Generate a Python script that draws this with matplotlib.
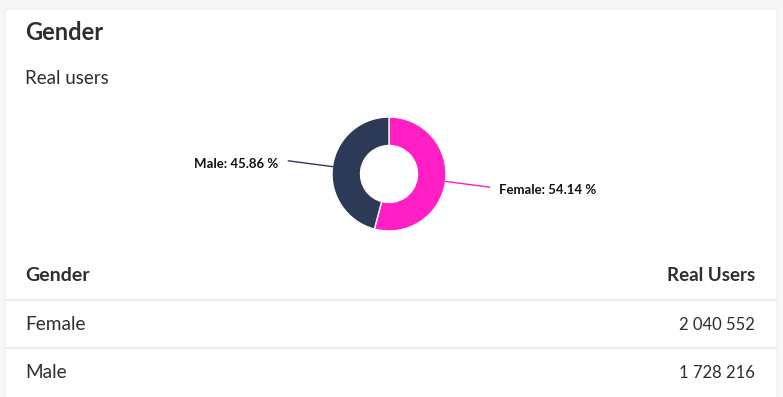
import matplotlib.pyplot as plt
import numpy as np
from matplotlib.patches import FancyBboxPatch

plt.rcParams['font.family'] = ['Lato', 'DejaVu Sans']

# Data
genders = ["Female", "Male"]
real_users = [2040552, 1728216]
colors = ["#ff1fc4", "#2d3a57"]

title = "Gender"
subtitle = "Real users"
col_headers = ["Gender", "Real Users"]

W, H = 783, 397
fig = plt.figure(figsize=(W / 100, H / 100), dpi=100)
fig.patch.set_facecolor("#f6f7f8")


def fx(px):
    return px / W


def fy(py):
    return 1 - py / H


# white card
card = FancyBboxPatch((fx(5), fy(420)), fx(772), (420 - 9) / H,
                      boxstyle="round,pad=0,rounding_size=0.006",
                      transform=fig.transFigure, facecolor="white",
                      edgecolor="#e9ebef", linewidth=0.8, zorder=-5)
fig.patches.append(card)

text_col = "#2e2e2e"
fig.text(fx(25), fy(33), title, fontsize=17, fontweight="bold",
         color=text_col, va="center", ha="left")
fig.text(fx(25), fy(79), subtitle, fontsize=13.5, color=text_col,
         va="center", ha="left")

# donut chart
cx, cy, r_px = 389, 174, 57
aw, ah = 440, 130
ax = fig.add_axes([fx(cx - aw / 2), fy(cy + ah / 2), aw / W, ah / H], zorder=2)

wedges, _ = ax.pie(real_users, colors=colors, startangle=90, counterclock=False,
                   radius=1, wedgeprops=dict(width=0.5, edgecolor="white", linewidth=1))
# pie() resets the limits, so set them afterwards
ax.set_xlim(-aw / 2 / r_px, aw / 2 / r_px)
ax.set_ylim(-ah / 2 / r_px, ah / 2 / r_px)
ax.set_aspect("equal")
ax.axis("off")

total = sum(real_users)
for w, g, v, c in zip(wedges, genders, real_users, colors):
    ang = np.deg2rad((w.theta1 + w.theta2) / 2)
    x0, y0 = np.cos(ang), np.sin(ang)
    x1, y1 = 1.78 * x0, 1.78 * y0
    ax.plot([x0, x1], [y0, y1], color=c, lw=1, clip_on=False)
    side = 1 if x0 > 0 else -1
    ax.text(x1 + side * 0.17, y1 - 0.05, f"{g}: {v / total * 100:.2f} %",
            ha="left" if side > 0 else "right", va="center",
            fontsize=9.5, fontweight="bold", color="#111111", clip_on=False)

# table
fig.text(fx(25), fy(275.5), col_headers[0], fontsize=14, fontweight="bold",
         color=text_col, va="center", ha="left")
fig.text(fx(755), fy(275.5), col_headers[1], fontsize=13.5, fontweight="bold",
         color=text_col, va="center", ha="right")

row_y = [324.5, 372.5]
sep_y = [300, 348]
for g, v, ry, sy in zip(genders, real_users, row_y, sep_y):
    fig.add_artist(plt.Line2D([fx(5), fx(777)], [fy(sy), fy(sy)],
                              transform=fig.transFigure, color="#eceef3", lw=1.5))
    fig.text(fx(25), fy(ry), g, fontsize=13.7, color=text_col, va="center", ha="left")
    fig.text(fx(755), fy(ry), f"{v:,}".replace(",", " "), fontsize=12,
             color=text_col, va="center", ha="right")

fig.savefig("out.png", dpi=100, facecolor=fig.get_facecolor())
